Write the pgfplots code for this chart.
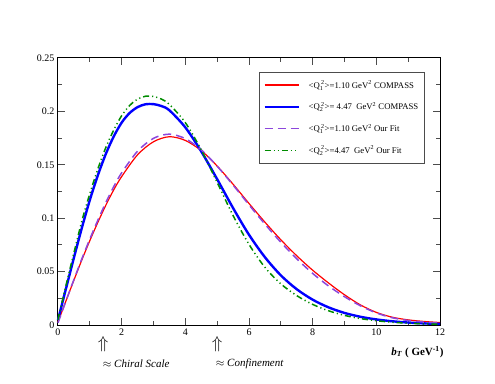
\documentclass[border=0pt]{standalone}
\usepackage{fontspec}
\setmainfont{Liberation Serif}
\usepackage{amsmath}
\usepackage{pgfplots}
\usepackage{pgfplotstable}
\pgfplotsset{compat=1.18}

\definecolor{fitpurple}{RGB}{140,70,220}
\definecolor{fitgreen}{RGB}{0,140,0}

% b_T (GeV^-1) and value
\pgfplotstableread{
b val
0 0.003
0.25 0.0225
0.5 0.042
0.75 0.061
1 0.079
1.25 0.096
1.5 0.112
1.75 0.1265
2 0.139
2.5 0.1594
3 0.1716
3.5 0.1763
4 0.1728
4.5 0.1633
5 0.1488
5.5 0.1318
6 0.1138
6.5 0.0963
7 0.0798
7.5 0.0648
8 0.0513
8.5 0.0393
9 0.0283
9.5 0.0188
10 0.0118
10.5 0.0073
11 0.0048
11.5 0.0033
12 0.0023
}\compassA

\pgfplotstableread{
b val
0 0.0047
0.25 0.034
0.5 0.063
0.75 0.091
1 0.117
1.25 0.140
1.5 0.160
1.75 0.1765
2 0.1895
2.25 0.1985
2.5 0.2040
2.75 0.2067
3 0.2068
3.25 0.2050
3.5 0.2010
4 0.1850
4.5 0.1625
5 0.1365
5.5 0.1095
6 0.0845
6.5 0.0635
7 0.0465
7.5 0.0335
8 0.0237
8.5 0.0165
9 0.0113
9.5 0.0077
10 0.0052
10.5 0.0035
11 0.0023
11.5 0.0015
12 0.0010
}\compassB

\pgfplotstableread{
b val
0 0.002
0.25 0.0225
0.5 0.0425
0.75 0.062
1 0.0805
1.25 0.098
1.5 0.1145
1.75 0.1295
2 0.1425
2.5 0.1628
3 0.1748
3.5 0.1787
4 0.1745
4.5 0.1640
5 0.1487
5.5 0.1310
6 0.1125
6.5 0.0945
7 0.0775
7.5 0.0620
8 0.0483
8.5 0.0365
9 0.0265
9.5 0.0180
10 0.0113
10.5 0.0068
11 0.0042
11.5 0.0027
12 0.0018
}\fitA

\pgfplotstableread{
b val
0 0.005
0.25 0.037
0.5 0.0675
0.75 0.0975
1 0.123
1.25 0.146
1.5 0.166
1.75 0.1825
2 0.1960
2.25 0.2055
2.5 0.2115
2.75 0.2142
3 0.2140
3.25 0.2115
3.5 0.2065
4 0.1895
4.5 0.1640
5 0.1335
5.5 0.1025
6 0.0755
6.5 0.0540
7 0.0385
7.5 0.0275
8 0.0193
8.5 0.0133
9 0.0090
9.5 0.0060
10 0.0040
10.5 0.0026
11 0.0017
11.5 0.0011
12 0.0007
}\fitB

\newcommand{\Qsq}[1]{<\ensuremath{\text{Q}_{\text{#1}}^{\,\text{2}}}>}

\begin{document}
\begin{tikzpicture}
\begin{axis}[
  scale only axis,
  width=382pt, height=267pt,
  xmin=0, xmax=12, ymin=0, ymax=0.25,
  xtick={0,2,4,6,8,10,12},
  minor xtick={1,3,5,7,9,11},
  ytick={0,0.05,0.1,0.15,0.2,0.25},
  minor ytick={0.025,0.075,0.125,0.175,0.225},
  tick align=inside,
  major tick length=7pt, minor tick length=4pt,
  every tick/.style={black!70, line width=1pt},
  axis line style={line width=1pt},
  scaled y ticks=false,
  yticklabel style={/pgf/number format/fixed, /pgf/number format/precision=2},
  /pgf/number format/assume math mode=true,
  tick label style={font=\fontsize{10}{12}\selectfont},
  clip=false,
  legend style={at={(rel axis cs:0.526,0.948)}, anchor=north west,
    draw=black!70, line width=0.8pt, fill=white,
    font=\fontsize{8.7}{10}\selectfont,
    row sep=8.5pt, column sep=7pt, inner xsep=4pt, inner ysep=6pt},
  legend cell align=left,
  legend image code/.code={\draw[#1] (0pt,0pt) -- (34pt,0pt);},
  smooth,
]
\addplot[color=red, line width=1.2pt] table[x=b, y=val] {\compassA};
\addlegendentry{\Qsq{1}=1.10 GeV\textsuperscript{2} COMPASS}
\addplot[color=blue, line width=2.4pt] table[x=b, y=val] {\compassB};
\addlegendentry{\Qsq{2}= 4.47\ \ GeV\textsuperscript{2} COMPASS}
\addplot[color=fitpurple, line width=1.5pt, dash pattern=on 8pt off 5pt] table[x=b, y=val] {\fitA};
\addlegendentry{\Qsq{1}=1.10 GeV\textsuperscript{2} Our Fit}
\addplot[color=fitgreen, line width=1.5pt, dash pattern=on 6pt off 3pt on 1.2pt off 3pt on 1.2pt off 3pt] table[x=b, y=val] {\fitB};
\addlegendentry{\Qsq{2}=4.47\ \ GeV\textsuperscript{2} Our Fit}

\node[font=\fontsize{17}{17}\selectfont] at (axis cs:1.42,-0.018) {$\Uparrow$};
\node[font=\fontsize{17}{17}\selectfont] at (axis cs:5.0,-0.018) {$\Uparrow$};
\node[anchor=west, font=\fontsize{11}{13}\selectfont] at (axis cs:1.3,-0.036) {$\approx$ \textit{Chiral Scale}};
\node[anchor=west, font=\fontsize{11}{13}\selectfont] at (axis cs:4.85,-0.036) {$\approx$ \textit{Confinement}};
\node[anchor=east, font=\fontsize{11}{13}\selectfont\bfseries] at (axis cs:12.22,-0.025)
  {\textit{b}\textsubscript{\textit{T}} ( GeV\textsuperscript{-1})};

\path (rel axis cs:0,0) ++(-58pt,-58pt) rectangle ++(495pt,383pt);
\end{axis}
\end{tikzpicture}
\end{document}
